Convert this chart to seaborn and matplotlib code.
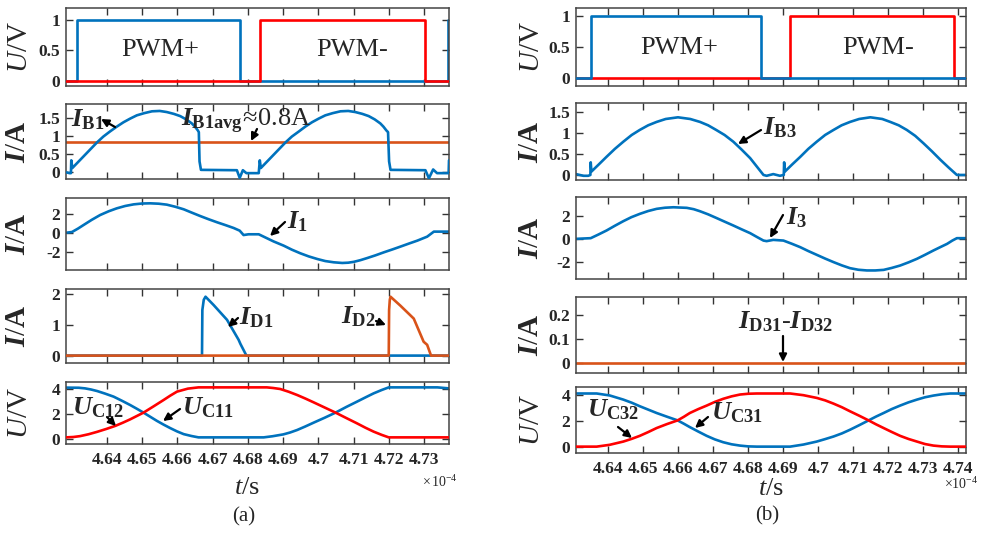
import matplotlib
matplotlib.use("Agg")
import matplotlib.pyplot as plt
import seaborn as sns

# ---------------- data (time in units of 1e-4 s) ----------------
# (a) PWM
pwm_pos_t_a = [4.6284, 4.6315, 4.6777, 4.7368, 4.7371]
pwm_pos_v_a = [0, 1, 0, 1, 1]
pwm_neg_t_a = [4.6284, 4.6834, 4.7304, 4.7371]
pwm_neg_v_a = [0, 1, 0, 0]
# (a) I_B1
ib1_t = [4.6286, 4.6294, 4.6298, 4.6299,
         4.6302, 4.6318, 4.6334, 4.6353, 4.6372, 4.6390, 4.6409, 4.6428, 4.6447, 4.6466,
         4.6485, 4.6506, 4.6528, 4.6550, 4.6570, 4.6590, 4.6608, 4.6625, 4.6641, 4.6650,
         4.6658, 4.6661, 4.6663, 4.6667, 4.6769, 4.6777, 4.6786, 4.6796, 4.6807, 4.6831,
         4.6834,
         4.6837, 4.6853, 4.6869, 4.6888, 4.6907, 4.6925, 4.6945, 4.6963, 4.6982, 4.7001,
         4.7020, 4.7041, 4.7063, 4.7085, 4.7105, 4.7125, 4.7143, 4.7160, 4.7176, 4.7185,
         4.7193, 4.7198, 4.7201, 4.7205, 4.7304, 4.7314, 4.7326, 4.7337, 4.7370, 4.7371]
ib1_v = [0.0, -0.02, -0.02, 0.33,
         0.12, 0.28, 0.44, 0.63, 0.82, 0.98, 1.12, 1.25, 1.37, 1.47,
         1.56, 1.62, 1.67, 1.68, 1.65, 1.60, 1.54, 1.45, 1.34, 1.25,
         1.15, 1.10, 0.30, 0.07, 0.06, -0.15, 0.06, -0.02, -0.02, -0.02,
         0.33,
         0.12, 0.28, 0.44, 0.63, 0.82, 0.98, 1.12, 1.25, 1.37, 1.47,
         1.56, 1.62, 1.67, 1.68, 1.65, 1.60, 1.54, 1.45, 1.34, 1.25,
         1.15, 1.10, 0.30, 0.07, 0.06, -0.16, 0.08, -0.02, -0.02, 0.33]
ib1_avg_t = [4.6284, 4.7371]
ib1_avg_v = [0.83, 0.83]
# (a) I_1
i1_t = [4.6286, 4.6301, 4.6318, 4.6334, 4.6357, 4.6381, 4.6405, 4.6428, 4.6452, 4.6476,
        4.6500, 4.6523, 4.6547, 4.6570, 4.6594, 4.6618, 4.6641, 4.6665, 4.6689, 4.6713,
        4.6737, 4.6760, 4.6777, 4.6788, 4.6802, 4.6831, 4.6845, 4.6873, 4.6902, 4.6925,
        4.6949, 4.6973, 4.6997, 4.7020, 4.7044, 4.7068, 4.7085, 4.7101, 4.7120, 4.7139,
        4.7162, 4.7186, 4.7210, 4.7233, 4.7257, 4.7281, 4.7309, 4.7328, 4.7347, 4.7371]
i1_v = [0.07, 0.14, 0.50, 0.88, 1.42, 1.93, 2.32, 2.63, 2.88, 3.05,
        3.14, 3.16, 3.12, 3.02, 2.80, 2.53, 2.18, 1.82, 1.48, 1.16,
        0.86, 0.56, 0.28, -0.18, -0.10, -0.10, -0.35, -0.85, -1.30, -1.72,
        -2.10, -2.43, -2.70, -2.92, -3.05, -3.12, -3.09, -3.00, -2.82, -2.60,
        -2.32, -2.00, -1.70, -1.40, -1.08, -0.77, -0.35, 0.18, 0.18, 0.18]
# (a) I_D1, I_D2
id1_t = [4.6284, 4.6670, 4.6671, 4.6675, 4.6680, 4.6703, 4.6741, 4.6774, 4.6779, 4.6788, 4.6796, 4.7371]
id1_v = [0, 0, 1.48, 1.81, 1.91, 1.64, 1.16, 0.51, 0.38, 0.18, 0.0, 0]
id2_t = [4.6284, 4.7200, 4.7201, 4.7203, 4.7205, 4.7233, 4.7271, 4.7299, 4.7309, 4.7320, 4.7371]
id2_v = [0, 0, 1.48, 1.81, 1.91, 1.62, 1.20, 0.45, 0.35, 0.0, 0]
# (a) U_C11 (blue) and U_C12 (red)
uc_blue_t_a = [4.6284, 4.6320, 4.6338, 4.6355, 4.6372, 4.6395, 4.6419, 4.6442, 4.6466, 4.6485,
               4.6504, 4.6523, 4.6542, 4.6561, 4.6580, 4.6599, 4.6618, 4.6640, 4.6660, 4.6845,
               4.6870, 4.6901, 4.6920, 4.6940, 4.6963, 4.6987, 4.7018, 4.7049, 4.7080, 4.7110,
               4.7134, 4.7157, 4.7180, 4.7200, 4.7338, 4.7371]
uc_blue_v_a = [4.11, 4.10, 4.05, 3.96, 3.84, 3.63, 3.39, 3.07, 2.72, 2.42,
               2.11, 1.78, 1.45, 1.15, 0.87, 0.61, 0.39, 0.24, 0.13, 0.13,
               0.22, 0.37, 0.52, 0.72, 1.00, 1.31, 1.70, 2.11, 2.57, 2.99,
               3.33, 3.65, 3.92, 4.13, 4.13, 4.05]
uc_red_t_a = [4.6284, 4.6305, 4.6324, 4.6348, 4.6372, 4.6398, 4.6424, 4.6445, 4.6466, 4.6485,
              4.6504, 4.6533, 4.6561, 4.6580, 4.6599, 4.6630, 4.6660, 4.6854, 4.6872, 4.6892,
              4.6916, 4.6940, 4.6963, 4.6987, 4.7018, 4.7049, 4.7080, 4.7110, 4.7134, 4.7157,
              4.7180, 4.7200, 4.7371]
uc_red_v_a = [0.13, 0.16, 0.23, 0.38, 0.57, 0.80, 1.05, 1.30, 1.57, 1.84,
              2.11, 2.62, 3.12, 3.47, 3.79, 4.03, 4.13, 4.13, 4.08, 4.00,
              3.78, 3.52, 3.24, 2.93, 2.52, 2.11, 1.67, 1.25, 0.90, 0.59,
              0.33, 0.13, 0.13]

# (b) PWM
pwm_pos_t_b = [4.6309, 4.6351, 4.6837, 4.7422]
pwm_pos_v_b = [0, 1, 0, 0]
pwm_neg_t_b = [4.6309, 4.6920, 4.7389, 4.7422]
pwm_neg_v_b = [0, 1, 0, 0]
# (b) I_B3
ib3_t = [4.6309, 4.6330, 4.6344, 4.6350, 4.6351,
         4.6353, 4.6374, 4.6396, 4.6420, 4.6444, 4.6468, 4.6491, 4.6515, 4.6539, 4.6565,
         4.6600, 4.6635, 4.6663, 4.6686, 4.6709, 4.6733, 4.6758, 4.6782, 4.6806, 4.6825,
         4.6844, 4.6853, 4.6872, 4.6891, 4.6902, 4.6903,
         4.6905, 4.6926, 4.6949, 4.6972, 4.6996, 4.7020, 4.7044, 4.7067, 4.7091, 4.7117,
         4.7149, 4.7183, 4.7206, 4.7230, 4.7253, 4.7277, 4.7301, 4.7325, 4.7349, 4.7372,
         4.7396, 4.7422]
ib3_v = [0.02, -0.02, -0.02, 0.0, 0.30,
         0.08, 0.25, 0.43, 0.62, 0.79, 0.95, 1.07, 1.18, 1.26, 1.33,
         1.37, 1.33, 1.26, 1.18, 1.07, 0.95, 0.79, 0.60, 0.40, 0.20,
         0.0, -0.02, 0.02, -0.02, 0.0, 0.30,
         0.08, 0.25, 0.43, 0.62, 0.79, 0.95, 1.07, 1.18, 1.26, 1.33,
         1.37, 1.33, 1.26, 1.18, 1.07, 0.93, 0.75, 0.56, 0.36, 0.18,
         0.0, 0.0]
# (b) I_3
i3_t = [4.6309, 4.6351, 4.6373, 4.6396, 4.6420, 4.6444, 4.6467, 4.6491, 4.6515, 4.6539,
        4.6563, 4.6587, 4.6625, 4.6645, 4.6663, 4.6686, 4.6709, 4.6733, 4.6758, 4.6782,
        4.6806, 4.6825, 4.6844, 4.6853, 4.6872, 4.6901, 4.6925, 4.6949, 4.6972, 4.6996,
        4.7020, 4.7044, 4.7068, 4.7091, 4.7115, 4.7139, 4.7163, 4.7187, 4.7210, 4.7234,
        4.7258, 4.7282, 4.7305, 4.7329, 4.7349, 4.7368, 4.7383, 4.7396, 4.7422]
i3_v = [0.0, 0.06, 0.38, 0.73, 1.15, 1.55, 1.90, 2.19, 2.44, 2.63,
        2.73, 2.77, 2.72, 2.60, 2.42, 2.15, 1.84, 1.51, 1.17, 0.83,
        0.50, 0.17, -0.15, -0.20, -0.09, -0.15, -0.43, -0.73, -1.07, -1.40,
        -1.73, -2.04, -2.33, -2.57, -2.71, -2.77, -2.77, -2.72, -2.55, -2.34,
        -2.06, -1.75, -1.40, -1.02, -0.72, -0.44, -0.15, 0.06, 0.06]
# (b) I_D31 - I_D32
id3_t = [4.6309, 4.7422]
id3_v = [0.0, 0.0]
# (b) U_C31 (blue) and U_C32 (red)
uc_blue_t_b = [4.6309, 4.6368, 4.6405, 4.6444, 4.6468, 4.6491, 4.6515, 4.6539, 4.6569, 4.6599,
               4.6617, 4.6634, 4.6658, 4.6682, 4.6705, 4.6729, 4.6753, 4.6777, 4.6800, 4.6825,
               4.6920, 4.6958, 4.6996, 4.7020, 4.7044, 4.7068, 4.7091, 4.7118, 4.7144, 4.7165,
               4.7187, 4.7210, 4.7234, 4.7258, 4.7282, 4.7305, 4.7329, 4.7353, 4.7377, 4.7422]
uc_blue_v_b = [4.15, 4.15, 4.00, 3.68, 3.44, 3.17, 2.91, 2.65, 2.36, 2.08,
               1.82, 1.56, 1.22, 0.89, 0.62, 0.40, 0.24, 0.14, 0.08, 0.06,
               0.06, 0.22, 0.45, 0.64, 0.84, 1.08, 1.36, 1.72, 2.08, 2.37,
               2.65, 2.95, 3.22, 3.47, 3.68, 3.86, 3.99, 4.09, 4.15, 4.15]
uc_red_t_b = [4.6309, 4.6368, 4.6405, 4.6444, 4.6468, 4.6491, 4.6515, 4.6539, 4.6569, 4.6599,
              4.6617, 4.6634, 4.6658, 4.6682, 4.6705, 4.6729, 4.6753, 4.6777, 4.6800, 4.6825,
              4.6920, 4.6958, 4.6996, 4.7020, 4.7044, 4.7068, 4.7091, 4.7118, 4.7144, 4.7165,
              4.7187, 4.7210, 4.7234, 4.7258, 4.7282, 4.7305, 4.7329, 4.7353, 4.7377, 4.7422]
uc_red_v_b = [0.06, 0.06, 0.20, 0.45, 0.66, 0.89, 1.18, 1.49, 1.80, 2.08,
              2.36, 2.65, 2.95, 3.22, 3.50, 3.74, 3.93, 4.07, 4.13, 4.15,
              4.15, 4.02, 3.81, 3.62, 3.37, 3.09, 2.78, 2.43, 2.08, 1.78,
              1.49, 1.19, 0.89, 0.65, 0.45, 0.26, 0.14, 0.08, 0.06, 0.06]

xticks_a = [4.64, 4.65, 4.66, 4.67, 4.68, 4.69, 4.70, 4.71, 4.72, 4.73]
xticklabels_a = ["4.64", "4.65", "4.66", "4.67", "4.68", "4.69", "4.7", "4.71", "4.72", "4.73"]
xticks_b = [4.64, 4.65, 4.66, 4.67, 4.68, 4.69, 4.70, 4.71, 4.72, 4.73, 4.74]
xticklabels_b = ["4.64", "4.65", "4.66", "4.67", "4.68", "4.69", "4.7", "4.71", "4.72", "4.73", "4.74"]

# ---------------- style ----------------
sns.set_theme(style="ticks")
plt.rcParams["font.family"] = ["Liberation Serif", "DejaVu Serif"]
plt.rcParams["mathtext.fontset"] = "custom"
plt.rcParams["mathtext.rm"] = "Liberation Serif"
plt.rcParams["mathtext.it"] = "Liberation Serif:italic"
plt.rcParams["mathtext.bf"] = "Liberation Serif:bold"
plt.rcParams["mathtext.bfit"] = "Liberation Serif:italic:bold"

BLUE = "#0072BD"
RED = "#FF0000"
ORANGE = "#D95319"
LW = 1.9
TICKFS = 12.5
LABFS = 21
ANNFS = 19

W, H = 984, 537
fig = plt.figure(figsize=(W / 100, H / 100), dpi=100)


def rect(x0, x1, y0, y1):
    return [x0 / W, 1 - y1 / H, (x1 - x0) / W, (y1 - y0) / H]


def P(x, y):
    return (x / W, 1 - y / H)


def line(ax, t, v, color, steps=False, z=2):
    kw = dict(drawstyle="steps-post") if steps else {}
    sns.lineplot(x=t, y=v, ax=ax, color=color, lw=LW, estimator=None, sort=False,
                 zorder=z, **kw)


def style(ax, xlim, ylim, yticks, yticklabels, xticks, xticklabels, bottom, ylab, ylab_px, x0, x1):
    ax.set_xlim(*xlim)
    ax.set_ylim(*ylim)
    ax.set_xticks(xticks)
    ax.set_yticks(yticks)
    ax.set_yticklabels(yticklabels, fontweight="bold", fontsize=TICKFS)
    if bottom:
        ax.set_xticklabels(xticklabels, fontweight="bold", fontsize=TICKFS)
    else:
        ax.set_xticklabels([])
    ax.tick_params(direction="in", top=True, right=True, length=5, width=1,
                   color="#333333", labelbottom=bottom, pad=4)
    ax.tick_params(axis="x", pad=6)
    for s in ax.spines.values():
        s.set_linewidth(1.1)
        s.set_color("#444444")
        s.set_visible(True)
    ax.set_xlabel("")
    ax.set_ylabel(ylab, fontsize=LABFS)
    # label anchor is its right edge (bottom of the rotated text)
    ax.yaxis.set_label_coords((ylab_px - x0) / (x1 - x0), 0.5)


UV = r"$\mathit{U}/\mathrm{V}$"
IA = r"$\mathbfit{I}/\mathbf{A}$"

# ---------------- left column (a) ----------------
LX0, LX1 = 66, 449
xl_a = (4.6284, 4.7371)
rows_a = [(8, 86), (104, 179), (198, 270), (289, 363), (382, 444)]
axa = [fig.add_axes(rect(LX0, LX1, *r)) for r in rows_a]

line(axa[0], pwm_pos_t_a, pwm_pos_v_a, BLUE, steps=True, z=2)
line(axa[0], pwm_neg_t_a, pwm_neg_v_a, RED, steps=True, z=3)
style(axa[0], xl_a, (-0.09, 1.2), [0, 0.5, 1], ["0", "0.5", "1"], xticks_a, xticklabels_a,
      False, UV, 33, LX0, LX1)

line(axa[1], ib1_avg_t, ib1_avg_v, ORANGE, z=2)
line(axa[1], ib1_t, ib1_v, BLUE, z=3)
style(axa[1], xl_a, (-0.18, 1.87), [0, 0.5, 1, 1.5], ["0", "0.5", "1", "1.5"], xticks_a,
      xticklabels_a, False, IA, 31, LX0, LX1)

line(axa[2], i1_t, i1_v, BLUE)
style(axa[2], xl_a, (-3.86, 3.72), [-2, 0, 2], ["-2", "0", "2"], xticks_a, xticklabels_a,
      False, IA, 31, LX0, LX1)

line(axa[3], id1_t, id1_v, BLUE, z=2)
line(axa[3], id2_t, id2_v, ORANGE, z=3)
style(axa[3], xl_a, (-0.24, 2.16), [0, 1, 2], ["0", "1", "2"], xticks_a, xticklabels_a,
      False, IA, 31, LX0, LX1)

line(axa[4], uc_blue_t_a, uc_blue_v_a, BLUE, z=2)
line(axa[4], uc_red_t_a, uc_red_v_a, RED, z=3)
style(axa[4], xl_a, (-0.4, 4.56), [0, 2, 4], ["0", "2", "4"], xticks_a, xticklabels_a,
      True, UV, 33, LX0, LX1)

# ---------------- right column (b) ----------------
RX0, RX1 = 576, 966
xl_b = (4.6309, 4.7422)
rows_b = [(8, 86), (103, 180), (197, 279), (297, 373), (387, 453)]
axb = [fig.add_axes(rect(RX0, RX1, *r)) for r in rows_b]

line(axb[0], pwm_neg_t_b, pwm_neg_v_b, RED, steps=True, z=2)
line(axb[0], pwm_pos_t_b, pwm_pos_v_b, BLUE, steps=True, z=3)
style(axb[0], xl_b, (-0.12, 1.12), [0, 0.5, 1], ["0", "0.5", "1"], xticks_b, xticklabels_b,
      False, UV, 545, RX0, RX1)

line(axb[1], ib3_t, ib3_v, BLUE)
style(axb[1], xl_b, (-0.12, 1.71), [0, 0.5, 1, 1.5], ["0", "0.5", "1", "1.5"], xticks_b,
      xticklabels_b, False, IA, 544, RX0, RX1)

line(axb[2], i3_t, i3_v, BLUE)
style(axb[2], xl_b, (-3.52, 3.67), [-2, 0, 2], ["-2", "0", "2"], xticks_b, xticklabels_b,
      False, IA, 544, RX0, RX1)

line(axb[3], id3_t, id3_v, ORANGE)
style(axb[3], xl_b, (-0.04, 0.274), [0, 0.1, 0.2], ["0", "0.1", "0.2"], xticks_b,
      xticklabels_b, False, IA, 544, RX0, RX1)

line(axb[4], uc_blue_t_b, uc_blue_v_b, BLUE, z=2)
line(axb[4], uc_red_t_b, uc_red_v_b, RED, z=3)
style(axb[4], xl_b, (-0.43, 4.65), [0, 2, 4], ["0", "2", "4"], xticks_b, xticklabels_b,
      True, UV, 545, RX0, RX1)

# ---------------- texts ----------------
def ftext(x, y, s, size, ha="center", va="center", **kw):
    fig.text(*P(x, y), s, fontsize=size, ha=ha, va=va, **kw)


def arrow(x0, y0, x1, y1):
    fig.add_artist(matplotlib.patches.FancyArrowPatch(
        P(x0, y0), P(x1, y1), transform=fig.transFigure, arrowstyle="-|>",
        mutation_scale=11, color="black", lw=1.6, shrinkA=0, shrinkB=0))


ftext(160, 50, "PWM+", 19)
ftext(352, 50, "PWM-", 19)
ftext(679, 48, "PWM+", 19)
ftext(878, 48, "PWM-", 19)

ftext(71, 120, r"$\mathbfit{I}_{\mathbf{B1}}$", ANNFS, ha="left")
arrow(115, 127, 101, 119)
ftext(181, 121, r"$\mathbfit{I}_{\mathbf{B1avg}}\!\approx\!\mathrm{0.8A}$", ANNFS, ha="left")
arrow(257, 129, 251, 141)

ftext(287, 222, r"$\mathbfit{I}_{\mathbf{1}}$", ANNFS, ha="left")
arrow(285, 222, 270, 236)
ftext(239, 318, r"$\mathbfit{I}_{\mathbf{D1}}$", ANNFS, ha="left")
arrow(238, 318, 228, 327)
ftext(341, 317, r"$\mathbfit{I}_{\mathbf{D2}}$", ANNFS, ha="left")
arrow(376, 321, 386, 325)
ftext(72, 408, r"$\mathbfit{U}_{\mathbf{C12}}$", ANNFS, ha="left")
arrow(107, 417, 116, 426)
ftext(182, 408, r"$\mathbfit{U}_{\mathbf{C11}}$", ANNFS, ha="left")
arrow(180, 409, 163, 421)

ftext(763, 128, r"$\mathbfit{I}_{\mathbf{B3}}$", ANNFS, ha="left")
arrow(761, 130, 738, 144)
ftext(786, 218, r"$\mathbfit{I}_{\mathbf{3}}$", ANNFS, ha="left")
arrow(783, 215, 770, 238)
ftext(786, 322, r"$\mathbfit{I}_{\mathbf{D31}}\mathbf{\text{-}}\mathbfit{I}_{\mathbf{D32}}$", ANNFS)
arrow(783, 336, 783, 362)
ftext(587, 410, r"$\mathbfit{U}_{\mathbf{C32}}$", ANNFS, ha="left")
arrow(618, 427, 632, 438)
ftext(711, 413, r"$\mathbfit{U}_{\mathbf{C31}}$", ANNFS, ha="left")
arrow(708, 417, 695, 428)

ftext(247, 488, r"$\mathit{t}/\mathrm{s}$", 19)
ftext(771, 489, r"$\mathit{t}/\mathrm{s}$", 19)
ftext(440, 482, r"$\times\,\mathrm{10^{-4}}$", 10)
ftext(961, 484, r"$\times\mathrm{10^{-4}}$", 10)
ftext(244, 517, "(a)", 15)
ftext(767, 516, "(b)", 15)

fig.savefig("out.png", dpi=100, facecolor="white")
